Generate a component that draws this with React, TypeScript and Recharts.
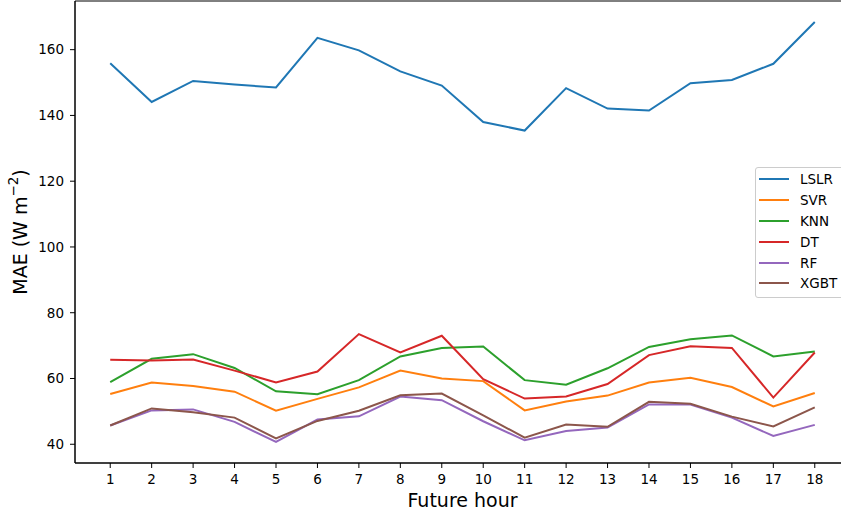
import React from "react";
import {
  LineChart,
  Line,
  XAxis,
  YAxis,
  Legend,
  ReferenceArea,
} from "recharts";

const HOURS = [1, 2, 3, 4, 5, 6, 7, 8, 9, 10, 11, 12, 13, 14, 15, 16, 17, 18];
const Y_TICKS = [40, 60, 80, 100, 120, 140, 160];

const LSLR = [155.9, 144.1, 150.5, 149.4, 148.5, 163.6, 159.8, 153.4, 149.1, 138.0, 135.4, 148.3, 142.1, 141.5, 149.8, 150.8, 155.7, 168.4];
const SVR = [55.3, 58.8, 57.7, 56.0, 50.2, 53.8, 57.3, 62.4, 60.0, 59.2, 50.3, 53.0, 54.8, 58.8, 60.2, 57.4, 51.5, 55.6];
const KNN = [58.9, 66.0, 67.4, 63.2, 56.1, 55.2, 59.5, 66.7, 69.3, 69.7, 59.5, 58.1, 63.1, 69.6, 71.9, 73.1, 66.7, 68.2];
const DT = [65.7, 65.5, 65.8, 62.4, 58.8, 62.1, 73.5, 67.9, 73.0, 59.8, 53.9, 54.5, 58.3, 67.1, 69.8, 69.3, 54.2, 67.9];
const RF = [45.7, 50.3, 50.6, 46.8, 40.7, 47.5, 48.5, 54.5, 53.4, 47.0, 41.2, 44.0, 45.1, 52.1, 52.1, 48.1, 42.5, 45.9];
const XGBT = [45.7, 50.9, 49.7, 48.1, 41.8, 47.1, 50.2, 54.9, 55.4, 48.8, 42.0, 46.0, 45.3, 52.9, 52.3, 48.4, 45.4, 51.2];

const SERIES = [
  { name: "LSLR", values: LSLR, color: "#1f77b4" },
  { name: "SVR", values: SVR, color: "#ff7f0e" },
  { name: "KNN", values: KNN, color: "#2ca02c" },
  { name: "DT", values: DT, color: "#d62728" },
  { name: "RF", values: RF, color: "#9467bd" },
  { name: "XGBT", values: XGBT, color: "#8c564b" },
];

const X_DOMAIN: [number, number] = [0.15, 18.85];
const Y_DOMAIN: [number, number] = [34.3, 174.8];

const FONT = "'DejaVu Sans', sans-serif";

const data = HOURS.map((hour, i) => {
  const row: Record<string, number> = { hour };
  SERIES.forEach((s) => {
    row[s.name] = s.values[i];
  });
  return row;
});

function LegendBox() {
  return (
    <div
      style={{
        border: "1px solid #cccccc",
        borderRadius: 3,
        background: "rgba(255,255,255,0.8)",
        padding: "1px 6px 3px 3px",
        fontFamily: FONT,
        fontSize: 13.5,
        color: "#000",
        boxSizing: "border-box",
      }}
    >
      {SERIES.map((s) => (
        <div
          key={s.name}
          style={{ display: "flex", alignItems: "center", height: 20.8 }}
        >
          <svg width={30} height={4} style={{ marginRight: 11 }}>
            <line x1={0} y1={2} x2={30} y2={2} stroke={s.color} strokeWidth={2} />
          </svg>
          <span>{s.name}</span>
        </div>
      ))}
    </div>
  );
}

function YLabel({ viewBox }: any) {
  const cx = viewBox.x + 20;
  const cy = viewBox.y + viewBox.height / 2;
  return (
    <text
      x={cx}
      y={cy}
      transform={`rotate(-90, ${cx}, ${cy})`}
      textAnchor="middle"
      dominantBaseline="central"
      fontFamily={FONT}
      fontSize={19}
      fill="#000"
    >
      MAE (W m
      <tspan dy={-7} fontSize={13.5}>
        −2
      </tspan>
      <tspan dy={7}>)</tspan>
    </text>
  );
}

function XLabel({ viewBox }: any) {
  return (
    <text
      x={viewBox.x + viewBox.width / 2}
      y={507}
      textAnchor="middle"
      fontFamily={FONT}
      fontSize={19}
      fill="#000"
    >
      Future hour
    </text>
  );
}

export default function App() {
  return (
    <div
      style={{
        position: "absolute",
        left: 0,
        top: 0,
        width: 841,
        height: 514,
        overflow: "hidden",
        background: "#fff",
      }}
    >
      <LineChart
        width={860}
        height={514}
        data={data}
        margin={{ top: 1, right: 10, bottom: 0, left: 0 }}
      >
        <XAxis
          dataKey="hour"
          type="number"
          domain={X_DOMAIN}
          ticks={HOURS}
          allowDataOverflow
          height={51}
          tickSize={5}
          tickMargin={6}
          tick={{ fill: "#000", fontSize: 13.5, fontFamily: FONT }}
          tickLine={{ stroke: "#000" }}
          axisLine={{ stroke: "#000" }}
          label={<XLabel />}
        />
        <YAxis
          type="number"
          domain={Y_DOMAIN}
          ticks={Y_TICKS}
          allowDataOverflow
          width={75}
          tickSize={5}
          tickMargin={6}
          tick={{ fill: "#000", fontSize: 13.5, fontFamily: FONT }}
          tickLine={{ stroke: "#000" }}
          axisLine={{ stroke: "#000" }}
          label={<YLabel />}
        />
        <ReferenceArea
          x1={X_DOMAIN[0]}
          x2={X_DOMAIN[1]}
          y1={Y_DOMAIN[0]}
          y2={Y_DOMAIN[1]}
          fill="none"
          stroke="#000"
          strokeWidth={1}
          ifOverflow="visible"
        />
        {SERIES.map((s) => (
          <Line
            key={s.name}
            dataKey={s.name}
            name={s.name}
            stroke={s.color}
            strokeWidth={2}
            dot={false}
            activeDot={false}
            isAnimationActive={false}
          />
        ))}
        <Legend
          layout="vertical"
          align="center"
          verticalAlign="middle"
          content={<LegendBox />}
          wrapperStyle={{ left: 755, top: 167, width: 95, height: "auto" }}
        />
      </LineChart>
    </div>
  );
}
